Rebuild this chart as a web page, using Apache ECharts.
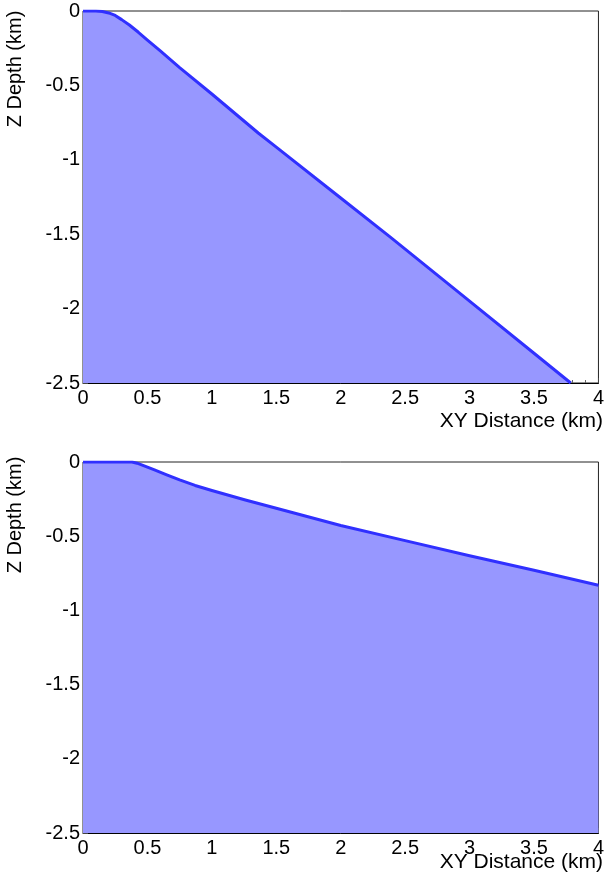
<!DOCTYPE html>
<html><head><meta charset="utf-8">
<script src="https://cdn.jsdelivr.net/npm/echarts@6/dist/echarts.min.js"></script>
<style>html,body{margin:0;padding:0;background:#fff}#c{width:607px;height:886px}</style>
</head><body><div id="c"></div>
<script>
// Top panel profile (XY distance km, Z depth km)
const topX = [0, 0.1, 0.15, 0.2, 0.25, 0.3, 0.36, 0.43, 0.5, 0.6, 0.75, 1, 1.36, 1.5, 2, 2.385, 3, 3.5, 3.785];
const topZ = [0, 0, -0.003, -0.013, -0.03, -0.058, -0.094, -0.143, -0.195, -0.268, -0.38, -0.558, -0.82, -0.915, -1.257, -1.52, -1.95, -2.3, -2.5];
// Bottom panel profile
const botX = [0, 0.38, 0.42, 0.48, 0.55, 0.65, 0.75, 0.87, 1, 1.26, 1.5, 2, 2.5, 3, 3.5, 4];
const botZ = [0, 0, -0.008, -0.028, -0.052, -0.087, -0.121, -0.158, -0.192, -0.256, -0.312, -0.428, -0.53, -0.632, -0.73, -0.83];
const xTicks = [0, 0.5, 1, 1.5, 2, 2.5, 3, 3.5, 4];
const yTicks = [-2.5, -2, -1.5, -1, -0.5, 0];
const xName = 'XY Distance (km)';
const yName = 'Z Depth (km)';

const FONT = 'Liberation Sans, Arial, Helvetica, sans-serif';
const chart = echarts.init(document.getElementById('c'), null, {renderer: 'canvas'});
const grids = [
  {left: 83, top: 11, width: 520, height: 372},
  {left: 83, top: 462, width: 520, height: 371}
];
function xAx(i){
  return {type:'value', gridIndex:i, min:xTicks[0], max:xTicks[xTicks.length-1], interval:0.5,
    axisLine:{show:true, onZero:false, lineStyle:{color:'#000', width:1}},
    axisTick:{show:true, inside:true, length:5, lineStyle:{color:'#444'}},
    minorTick:{show:true, splitNumber:5, length:3, lineStyle:{color:'#666'}},
    splitLine:{show:false},
    axisLabel:{color:'#000', fontSize:20, fontFamily:FONT, margin:5,
      formatter:v=>String(v)}};
}
function yAx(i){
  return {type:'value', gridIndex:i, min:yTicks[0], max:yTicks[yTicks.length-1], interval:0.5,
    axisLine:{show:true, onZero:false, lineStyle:{color:'#000', width:1}},
    axisTick:{show:true, inside:true, length:5, lineStyle:{color:'#444'}},
    minorTick:{show:true, splitNumber:5, length:3, lineStyle:{color:'#666'}},
    splitLine:{show:false},
    axisLabel:{color:'#000', fontSize:20, fontFamily:FONT, margin:3,
      formatter:v=>String(v)}};
}
function ser(i, xs, zs){
  return {type:'line', xAxisIndex:i, yAxisIndex:i, data:xs.map((x,k)=>[x, zs[k]]),
    smooth:false, symbol:'none', clip:true,
    lineStyle:{color:'#3030ff', width:3, join:'round'},
    areaStyle:{color:'#9797ff', opacity:1, origin:'start'}};
}
chart.setOption({
  animation:false,
  backgroundColor:'#fff',
  grid: grids.map(g=>Object.assign({show:true, borderColor:'#222', borderWidth:1, backgroundColor:'transparent'}, g)),
  xAxis:[xAx(0), xAx(1)],
  yAxis:[yAx(0), yAx(1)],
  series:[ser(0, topX, topZ), ser(1, botX, botZ)],
  graphic:[
    {type:'text', x:603, y:421, style:{text:xName, font:'21px '+FONT, fill:'#000', align:'right', verticalAlign:'middle'}},
    {type:'text', x:603, y:862, style:{text:xName, font:'21px '+FONT, fill:'#000', align:'right', verticalAlign:'middle'}},
    {type:'text', x:15, y:69, rotation:Math.PI/2, style:{text:yName, font:'20px '+FONT, fill:'#000', align:'center', verticalAlign:'middle'}},
    {type:'text', x:15, y:515, rotation:Math.PI/2, style:{text:yName, font:'20px '+FONT, fill:'#000', align:'center', verticalAlign:'middle'}}
  ]
});
</script></body></html>
